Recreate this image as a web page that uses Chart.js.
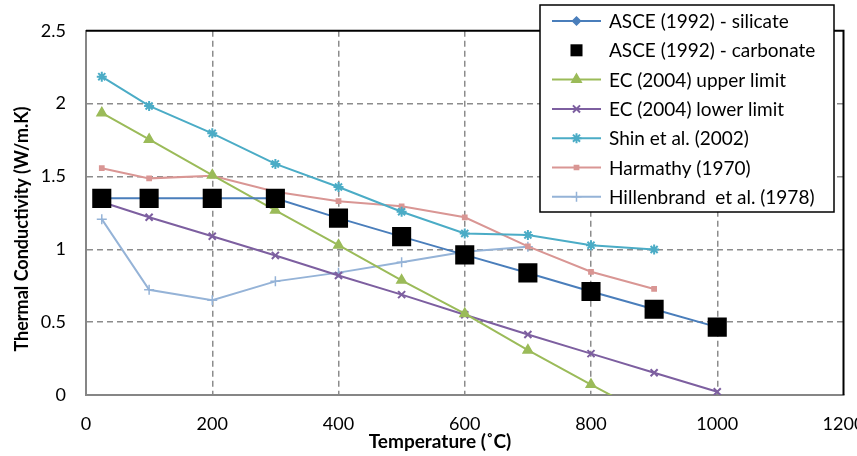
<!DOCTYPE html>
<html>
<head>
<meta charset="utf-8">
<script src="https://cdn.jsdelivr.net/npm/chart.js@4.4.1/dist/chart.umd.min.js"></script>
<style>
  html, body { margin: 0; padding: 0; background: #fff; }
  #wrap { width: 857px; height: 456px; }
</style>
</head>
<body>
<div id="wrap"><canvas id="condutividade"></canvas></div>
<script>
'use strict';

// temperatures (°C) and thermal conductivity (W/m.K) per source
var tempAsce = [25, 100, 200, 300, 400, 500, 600, 700, 800, 900, 1000];
var asceSilicate = [1.35, 1.35, 1.35, 1.35, 1.214, 1.087, 0.962, 0.838, 0.711, 0.589, 0.466];
var asceCarbonate = [1.35, 1.35, 1.35, 1.35, 1.214, 1.087, 0.962, 0.838, 0.711, 0.589, 0.466];

var tempEcUpper = [25, 100, 200, 300, 400, 500, 600, 700, 800, 900];
var ecUpper = [1.936, 1.754, 1.509, 1.268, 1.028, 0.787, 0.558, 0.308, 0.072, -0.16];

var tempEcLower = [25, 100, 200, 300, 400, 500, 600, 700, 800, 900, 1000];
var ecLower = [1.325, 1.22, 1.09, 0.958, 0.82, 0.689, 0.551, 0.415, 0.284, 0.153, 0.022];

var tempShin = [25, 100, 200, 300, 400, 500, 600, 700, 800, 900];
var shin = [2.185, 1.984, 1.796, 1.586, 1.428, 1.258, 1.109, 1.098, 1.028, 0.999];

var tempHarmathy = [25, 100, 200, 300, 400, 500, 600, 700, 800, 900];
var harmathy = [1.557, 1.487, 1.505, 1.395, 1.33, 1.295, 1.22, 1.02, 0.846, 0.728];

var tempHillenbrand = [25, 100, 200, 300, 400, 500, 600, 700];
var hillenbrand = [1.207, 0.722, 0.65, 0.78, 0.84, 0.912, 0.984, 1.017];

var xTicks = [0, 200, 400, 600, 800, 1000, 1200];
var yTicks = [0, 0.5, 1, 1.5, 2, 2.5];

var fonte = 'Lato, "Open Sans", sans-serif';

function pontos(xs, ys) {
  return xs.map(function (x, i) { return { x: x, y: ys[i] }; });
}

function serie(label, xs, ys, cor, estilo, raio, extra) {
  var ds = {
    label: label,
    data: pontos(xs, ys),
    showLine: true,
    borderColor: cor,
    backgroundColor: cor,
    borderWidth: 2,
    pointStyle: estilo,
    pointRadius: raio,
    pointHoverRadius: raio,
    pointBorderColor: cor,
    pointBackgroundColor: cor,
    pointBorderWidth: 1.5,
    tension: 0
  };
  for (var k in extra) ds[k] = extra[k];
  return ds;
}

var datasets = [
  serie('ASCE (1992) - silicate', tempAsce, asceSilicate, '#4A7EBB', 'rectRot', 4, {}),
  serie('ASCE (1992) - carbonate', tempAsce, asceCarbonate, '#000000', 'rect', 13.5,
    { showLine: false, pointBorderWidth: 0, order: -1, legendRadius: 8.5 }),
  serie('EC (2004) upper limit', tempEcUpper, ecUpper, '#9BBB59', 'triangle', 5.5, {}),
  serie('EC (2004) lower limit', tempEcLower, ecLower, '#7D5FA0', 'crossRot', 5, { pointBorderWidth: 2 }),
  serie('Shin et al. (2002)', tempShin, shin, '#4BACC6', 'star', 5, { pointBorderWidth: 2 }),
  serie('Harmathy (1970)', tempHarmathy, harmathy, '#D99694', 'rect', 3, {}),
  serie('Hillenbrand  et al. (1978)', tempHillenbrand, hillenbrand, '#95B3D7', 'cross', 5, { pointBorderWidth: 1.5 })
];

// black frame on top and right of the plot area
var moldura = {
  id: 'moldura',
  beforeDatasetsDraw: function (chart) {
    var a = chart.chartArea, ctx = chart.ctx;
    ctx.save();
    ctx.strokeStyle = '#000';
    ctx.lineWidth = 2;
    ctx.beginPath();
    ctx.moveTo(a.left, a.top);
    ctx.lineTo(a.right, a.top);
    ctx.lineTo(a.right, a.bottom);
    ctx.stroke();
    ctx.restore();
  }
};

// axis titles
var titulos = {
  id: 'titulos',
  afterDraw: function (chart) {
    var ctx = chart.ctx;
    ctx.save();
    ctx.fillStyle = '#000';
    ctx.textAlign = 'center';
    ctx.textBaseline = 'middle';
    ctx.font = 'bold 19px ' + fonte;
    ctx.fillText('Temperature (˚C)', 440, 442);
    ctx.font = 'bold 18px ' + fonte;
    ctx.translate(22, 229);
    ctx.rotate(-Math.PI / 2);
    ctx.fillText('Thermal Conductivity (W/m.K)', 0, 0);
    ctx.restore();
  }
};

// legend box drawn over the plot
var legenda = {
  id: 'legenda',
  afterDraw: function (chart) {
    var ctx = chart.ctx;
    var box = { x: 540, y: 5, w: 294, h: 207 };
    ctx.save();
    ctx.fillStyle = '#fff';
    ctx.fillRect(box.x, box.y, box.w, box.h);
    ctx.strokeStyle = '#000';
    ctx.lineWidth = 1.5;
    ctx.strokeRect(box.x, box.y, box.w, box.h);
    ctx.font = '19px ' + fonte;
    ctx.textBaseline = 'middle';
    chart.data.datasets.forEach(function (ds, i) {
      var y = 21 + i * 29.3;
      if (ds.showLine) {
        ctx.strokeStyle = ds.borderColor;
        ctx.lineWidth = 2;
        ctx.beginPath();
        ctx.moveTo(552, y);
        ctx.lineTo(601, y);
        ctx.stroke();
      }
      ctx.fillStyle = ds.pointBackgroundColor;
      ctx.strokeStyle = ds.pointBorderColor;
      ctx.lineWidth = ds.pointBorderWidth;
      Chart.helpers.drawPoint(ctx, {
        pointStyle: ds.pointStyle,
        radius: ds.legendRadius || ds.pointRadius,
        borderWidth: ds.pointBorderWidth,
        rotation: 0
      }, 576.5, y);
      ctx.fillStyle = '#000';
      ctx.fillText(ds.label, 609, y + 1);
    });
    ctx.restore();
  }
};

function rotulo(v) {
  return String(v);
}

var ctx = document.getElementById('condutividade');
var chart = new Chart(ctx, {
  type: 'scatter',
  data: { datasets: datasets },
  plugins: [moldura, titulos, legenda],
  options: {
    responsive: true,
    maintainAspectRatio: false,
    animation: false,
    events: [],
    layout: { padding: { top: 14, right: 9, left: 0, bottom: 0 } },
    plugins: {
      legend: { display: false },
      tooltip: { enabled: false }
    },
    scales: {
      x: {
        type: 'linear',
        min: 0,
        max: 1200,
        afterBuildTicks: function (scale) {
          scale.ticks = xTicks.map(function (v) { return { value: v }; });
        },
        afterFit: function (scale) {
          scale.height = 61;
          scale.paddingLeft = 0;
          scale.paddingRight = 0;
        },
        border: { display: true, color: '#868686', width: 2, dash: [6, 4] },
        grid: {
          color: function (c) {
            return (c.tick.value === 0 || c.tick.value === 1200) ? 'rgba(0,0,0,0)' : '#8C8C8C';
          },
          lineWidth: 1.5,
          drawTicks: false
        },
        ticks: {
          color: '#000',
          padding: 18,
          maxRotation: 0,
          autoSkip: false,
          callback: rotulo,
          font: { family: fonte, size: 18 }
        }
      },
      y: {
        type: 'linear',
        min: 0,
        max: 2.5,
        afterBuildTicks: function (scale) {
          scale.ticks = yTicks.map(function (v) { return { value: v }; });
        },
        afterFit: function (scale) {
          scale.width = 86;
        },
        border: { display: true, color: '#868686', width: 2, dash: [6, 4] },
        grid: {
          color: function (c) {
            return (c.tick.value === 0 || c.tick.value === 2.5) ? 'rgba(0,0,0,0)' : '#8C8C8C';
          },
          lineWidth: 1.5,
          drawTicks: false
        },
        ticks: {
          color: '#000',
          padding: 20,
          callback: rotulo,
          font: { family: fonte, size: 18 }
        }
      }
    }
  }
});
</script>
</body>
</html>
